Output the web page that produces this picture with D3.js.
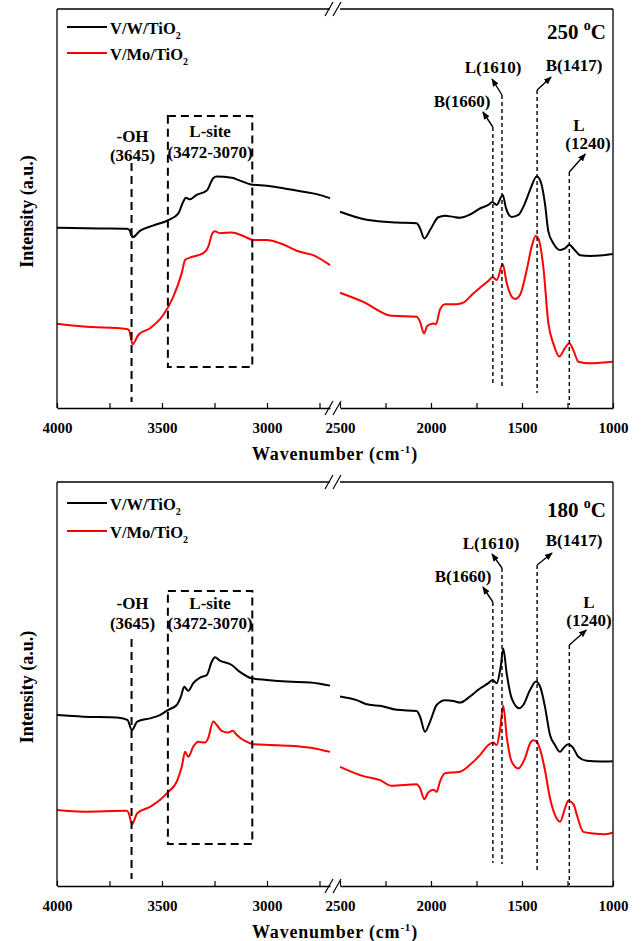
<!DOCTYPE html>
<html>
<head>
<meta charset="utf-8">
<script src="https://cdn.jsdelivr.net/npm/d3@7"></script>
<style>
  body { margin: 0; background: #fff; }
  svg { display: block; font-family: "Times New Roman", "Liberation Serif", serif; font-weight: bold; }
</style>
</head>
<body>
<div id="chart"></div>
<script>
// spectra: [wavenumber, intensity (a.u.)]
const vw250 = [[4000,45.2],[3800,45.0],[3668,44.9],[3655,44.6],[3640,42.8],[3605,44.4],[3543,45.7],[3470,47.1],[3422,48.8],[3399,51.7],[3386,52.7],[3367,52.3],[3335,53.4],[3287,54.5],[3256,57.6],[3240,58.0],[3168,57.7],[3129,57.0],[3081,56.1],[3001,55.7],[2922,55.1],[2827,54.2],[2763,53.6],[2700,52.6],
  [2500,49.2],[2345,47.1],[2188,46.5],[2079,46.3],[2060,45.0],[2037,42.5],[2005,44.6],[1960,47.8],[1923,48.2],[1877,47.9],[1841,47.7],[1786,48.5],[1731,50.0],[1685,50.9],[1663,51.6],[1639,50.9],[1606,53.4],[1588,50.1],[1557,47.9],[1520,48.4],[1484,51.3],[1456,54.6],[1419,58.0],[1397,56.7],[1374,51.3],[1355,44.2],[1328,41.3],[1291,39.6],[1264,40.0],[1240,40.9],[1218,40.0],[1181,38.3],[1126,38.1],[1053,38.3],[1002,38.6]];
const vm250 = [[4000,21.1],[3875,20.4],[3668,19.8],[3657,19.5],[3640,16.0],[3613,18.3],[3557,20.0],[3494,23.3],[3446,27.9],[3406,33.8],[3390,37.1],[3367,37.7],[3303,38.8],[3280,40.4],[3260,43.8],[3248,44.3],[3224,43.8],[3168,44.0],[3113,43.1],[3065,42.1],[3001,42.1],[2938,41.3],[2906,40.6],[2859,39.4],[2780,38.3],[2700,35.8],
  [2500,28.9],[2372,26.6],[2216,23.1],[2079,22.9],[2060,21.6],[2038,18.7],[2020,20.6],[1987,21.2],[1973,21.0],[1951,24.6],[1923,26.0],[1859,26.0],[1823,26.4],[1768,28.7],[1713,30.8],[1680,32.1],[1663,32.8],[1639,32.1],[1606,36.1],[1584,31.3],[1557,27.9],[1538,27.3],[1511,28.3],[1474,34.6],[1447,40.4],[1425,43.1],[1410,42.5],[1383,35.4],[1355,21.2],[1328,16.2],[1295,12.9],[1264,15.0],[1240,16.2],[1218,14.5],[1190,11.6],[1126,11.2],[1053,11.4],[1002,11.6]];
const vw180 = [[4000,42.3],[3875,41.9],[3716,41.7],[3665,41.1],[3643,38.6],[3618,40.7],[3557,41.5],[3510,42.3],[3470,43.6],[3430,44.8],[3410,46.9],[3394,49.3],[3375,48.3],[3351,50.2],[3319,51.6],[3287,52.2],[3263,55.5],[3248,56.6],[3224,55.8],[3168,54.7],[3129,53.0],[3073,51.4],[3001,51.0],[2906,50.6],[2795,50.4],[2700,49.6],
  [2500,46.9],[2408,46.0],[2353,45.0],[2326,44.8],[2280,44.6],[2188,43.6],[2079,43.3],[2060,41.9],[2033,38.2],[2005,40.7],[1969,44.8],[1923,46.0],[1877,45.8],[1841,45.4],[1786,46.9],[1731,48.9],[1685,50.2],[1661,51.0],[1639,50.2],[1617,54.3],[1603,58.8],[1584,52.6],[1557,46.5],[1515,44.0],[1493,44.8],[1456,48.5],[1423,50.6],[1397,48.9],[1374,44.4],[1346,37.4],[1319,34.9],[1291,33.2],[1273,34.1],[1246,35.1],[1221,34.3],[1191,32.0],[1145,31.0],[1071,30.8],[1002,30.9]];
const vm180 = [[4000,18.8],[3875,18.4],[3668,18.6],[3659,18.1],[3643,15.3],[3618,18.0],[3557,19.6],[3510,21.3],[3470,23.3],[3430,25.8],[3406,29.5],[3390,33.2],[3375,32.0],[3351,34.5],[3327,35.7],[3295,35.5],[3280,36.6],[3256,40.7],[3240,39.9],[3216,38.4],[3184,38.0],[3163,38.4],[3144,37.4],[3105,35.9],[3065,35.1],[2986,34.9],[2890,34.7],[2779,34.1],[2700,33.2],
  [2500,29.5],[2372,27.2],[2280,26.2],[2216,24.8],[2079,25.2],[2060,24.2],[2037,21.5],[2016,23.1],[1987,23.8],[1969,23.3],[1951,25.8],[1923,27.9],[1841,28.3],[1786,30.0],[1731,32.4],[1685,34.9],[1658,35.5],[1639,34.9],[1621,38.6],[1603,44.6],[1584,37.0],[1557,30.8],[1520,29.1],[1484,31.6],[1456,35.3],[1438,36.1],[1419,35.7],[1392,32.4],[1374,28.7],[1346,21.7],[1319,17.6],[1291,15.9],[1264,19.2],[1246,21.1],[1218,20.3],[1196,17.2],[1163,13.4],[1108,13.0],[1053,12.8],[1002,13.2]];

const seriesNames = ['V/W/TiO', 'V/Mo/TiO'];
const seriesColours = ['#000000', '#ff0000'];
const temperatures = ['250', '180'];
const leftTicks = [4000, 3750, 3500, 3250, 3000, 2750];
const rightTicks = [2500, 2250, 2000, 1750, 1500, 1250, 1000];
const labelledTicks = [4000, 3500, 3000, 2500, 2000, 1500, 1000];
const peaks = [
  { wn: 1660, label: 'B(1660)' },
  { wn: 1610, label: 'L(1610)' },
  { wn: 1417, label: 'B(1417)' },
  { wn: 1240, label: 'L' , sub: '(1240)' }
];
const ohPeak = 3645;
const lSite = [3472, 3070];

// layout per panel (pixel positions of annotations)
const panels = [
  { top: 9, bottom: 408, legendY: [27, 53], tempY: 39,
    oh: { y1: 163, y2: 402, t1: 142, t2: 161 },
    box: { y1: 116, y2: 367, t1: 137, t2: 158 },
    peaks: [
      { y1: 127, y2: 386, tip: [-10, -15], tx: 462, ty: 107 },
      { y1: 95, y2: 387, tip: [-10, -16], tx: 493, ty: 73 },
      { y1: 90, y2: 393, tip: [14, -13], tx: 574, ty: 71 },
      { y1: 172, y2: 405, tip: [16, -18], tx: 579, ty: 131, tx2: 588, ty2: 149 }
    ] },
  { top: 482, bottom: 886, legendY: [503, 531], tempY: 517,
    oh: { y1: 639, y2: 879, t1: 609, t2: 629 },
    box: { y1: 591, y2: 844, t1: 609, t2: 629 },
    peaks: [
      { y1: 602, y2: 863, tip: [-10, -15], tx: 463, ty: 582 },
      { y1: 568, y2: 864, tip: [-10, -14], tx: 491, ty: 549 },
      { y1: 565, y2: 872, tip: [15, -12], tx: 574, ty: 546 },
      { y1: 645, y2: 885, tip: [17, -15], tx: 589, ty: 608, tx2: 589, ty2: 626 }
    ] }
];
const allSeries = [[vw250, vm250], [vw180, vm180]];

const width = 642, height = 941;
const left = 57, right = 613;
const xL = d3.scaleLinear().domain([4000, 2700]).range([left, 330]);
const xR = d3.scaleLinear().domain([2500, 1000]).range([340, right]);
const xPos = (wn) => wn > 2600 ? xL(wn) : xR(wn);

let svg = d3.select('#chart')
  .append('svg')
    .attr('width', width)
    .attr('height', height);

svg.append('defs').append('marker')
    .attr('id', 'arr')
    .attr('viewBox', '0 0 10 10')
    .attr('refX', 9).attr('refY', 5)
    .attr('markerWidth', 8).attr('markerHeight', 8)
    .attr('markerUnits', 'userSpaceOnUse')
    .attr('orient', 'auto')
  .append('path')
    .attr('d', 'M0,1 L10,5 L0,9 z')
    .attr('fill', '#000');

panels.forEach((p, i) => {
  const y = d3.scaleLinear().domain([0, 100]).range([p.bottom, p.top]);
  const g = svg.append('g');

  // curves, split at the axis break
  allSeries[i].forEach((data, k) => {
    const line = d3.line()
      .x(d => xPos(d[0]))
      .y(d => y(d[1]))
      .curve(d3.curveMonotoneX);
    [data.filter(d => d[0] > 2600), data.filter(d => d[0] <= 2600)].forEach(seg => {
      g.append('path')
        .attr('d', line(seg))
        .attr('fill', 'none')
        .attr('stroke', seriesColours[k])
        .attr('stroke-width', 2)
        .attr('stroke-linejoin', 'round');
    });
  });

  // frame
  const frame = g.append('g').attr('stroke', '#000').attr('stroke-width', 1.3);
  frame.append('line').attr('x1', left).attr('x2', left).attr('y1', p.top).attr('y2', p.bottom);
  frame.append('line').attr('x1', right).attr('x2', right).attr('y1', p.top).attr('y2', p.bottom);
  frame.append('line').attr('x1', left).attr('x2', xL(2700)).attr('y1', p.top).attr('y2', p.top);
  frame.append('line').attr('x1', xR(2500)).attr('x2', right).attr('y1', p.top).attr('y2', p.top);

  // bottom axes, inward ticks
  const fmt = d => labelledTicks.includes(d) ? d : '';
  [[xL, leftTicks], [xR, rightTicks]].forEach(([sc, tv]) => {
    const ax = g.append('g')
      .attr('transform', `translate(0, ${p.bottom})`)
      .call(d3.axisBottom(sc).tickValues(tv).tickFormat(fmt).tickSizeInner(-5).tickSizeOuter(0).tickPadding(14));
    ax.select('.domain').attr('stroke-width', 1.3);
    ax.selectAll('.tick line').attr('stroke-width', 1.2);
    ax.selectAll('text')
      .attr('font-size', 15)
      .attr('font-family', '"Times New Roman", "Liberation Serif", serif')
      .attr('font-weight', 'bold')
      .attr('fill', '#000');
  });

  // break marks
  [p.top, p.bottom].forEach(yy => {
    [329, 337].forEach(bx => {
      g.append('line')
        .attr('x1', bx - 4).attr('y1', yy + 7)
        .attr('x2', bx + 4).attr('y2', yy - 7)
        .attr('stroke', '#000').attr('stroke-width', 1.2);
    });
  });

  // legend
  seriesNames.forEach((name, k) => {
    g.append('line')
      .attr('x1', 67).attr('x2', 107)
      .attr('y1', p.legendY[k]).attr('y2', p.legendY[k])
      .attr('stroke', seriesColours[k]).attr('stroke-width', 2);
    const t = g.append('text')
      .attr('x', 110).attr('y', p.legendY[k] + 6.5)
      .attr('font-size', 16.5)
      .text(name);
    t.append('tspan').attr('font-size', 10).attr('dy', 5).text('2');
  });

  // temperature
  const tt = g.append('text')
    .attr('x', 606).attr('y', p.tempY)
    .attr('text-anchor', 'end')
    .attr('font-size', 21)
    .text(temperatures[i] + ' ');
  tt.append('tspan').attr('font-size', 14).attr('dy', -9).text('o');
  tt.append('tspan').attr('dy', 9).text('C');

  // -OH line
  g.append('line')
    .attr('x1', xL(ohPeak)).attr('x2', xL(ohPeak))
    .attr('y1', p.oh.y1).attr('y2', p.oh.y2)
    .attr('stroke', '#000').attr('stroke-width', 2)
    .attr('stroke-dasharray', '8,5');
  g.append('text').attr('x', xL(ohPeak) + 1).attr('y', p.oh.t1)
    .attr('text-anchor', 'middle').attr('font-size', 17).text('-OH');
  g.append('text').attr('x', xL(ohPeak) + 1).attr('y', p.oh.t2)
    .attr('text-anchor', 'middle').attr('font-size', 17).text('(' + ohPeak + ')');

  // L-site box
  g.append('rect')
    .attr('x', xL(lSite[0])).attr('y', p.box.y1)
    .attr('width', xL(lSite[1]) - xL(lSite[0]))
    .attr('height', p.box.y2 - p.box.y1)
    .attr('fill', 'none')
    .attr('stroke', '#000').attr('stroke-width', 2)
    .attr('stroke-dasharray', '8,5');
  const bx = (xL(lSite[0]) + xL(lSite[1])) / 2;
  g.append('text').attr('x', bx).attr('y', p.box.t1)
    .attr('text-anchor', 'middle').attr('font-size', 17).text('L-site');
  g.append('text').attr('x', bx).attr('y', p.box.t2)
    .attr('text-anchor', 'middle').attr('font-size', 17).text('(' + lSite.join('-') + ')');

  // peak markers
  peaks.forEach((pk, k) => {
    const a = p.peaks[k];
    const px = xR(pk.wn);
    g.append('line')
      .attr('x1', px).attr('x2', px)
      .attr('y1', a.y1).attr('y2', a.y2)
      .attr('stroke', '#000').attr('stroke-width', 1.4)
      .attr('stroke-dasharray', '4,3');
    g.append('line')
      .attr('x1', px).attr('y1', a.y1)
      .attr('x2', px + a.tip[0]).attr('y2', a.y1 + a.tip[1])
      .attr('stroke', '#000').attr('stroke-width', 1.4)
      .attr('marker-end', 'url(#arr)');
    g.append('text').attr('x', a.tx).attr('y', a.ty)
      .attr('text-anchor', 'middle').attr('font-size', 17).text(pk.label);
    if (pk.sub) {
      g.append('text').attr('x', a.tx2).attr('y', a.ty2)
        .attr('text-anchor', 'middle').attr('font-size', 17).text(pk.sub);
    }
  });

  // axis titles
  const xt = g.append('text')
    .attr('x', 335).attr('y', p.bottom + 52)
    .attr('text-anchor', 'middle')
    .attr('font-size', 18)
    .attr('letter-spacing', 0.8)
    .text('Wavenumber (cm');
  xt.append('tspan').attr('font-size', 11).attr('dy', -7).text('-1');
  xt.append('tspan').attr('dy', 7).text(')');

  g.append('text')
    .attr('transform', `translate(33, ${(p.top + p.bottom) / 2 + 3}) rotate(-90)`)
    .attr('text-anchor', 'middle')
    .attr('font-size', 18)
    .text('Intensity (a.u.)');
});
</script>
</body>
</html>
